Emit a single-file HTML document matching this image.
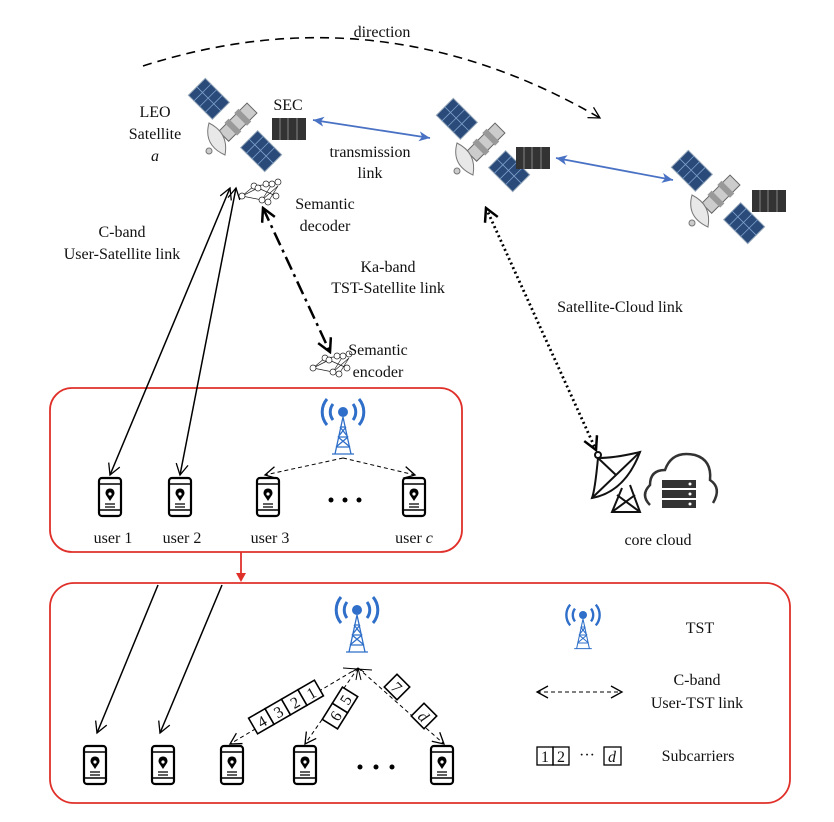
<!DOCTYPE html>
<html><head><meta charset="utf-8"><style>
html,body{margin:0;padding:0;background:#fff}
svg{display:block}
text{font-family:"Liberation Serif",serif;font-size:16px;fill:#111}
</style></head><body>
<svg width="834" height="822" viewBox="0 0 834 822" xmlns="http://www.w3.org/2000/svg">
<defs>
<marker id="oa" markerWidth="14" markerHeight="14" refX="12" refY="7" orient="auto-start-reverse" markerUnits="userSpaceOnUse"><path d="M1,1 L12,7 L1,13" fill="none" stroke="#000" stroke-width="1.3"/></marker>
<marker id="ob" markerWidth="16" markerHeight="16" refX="14" refY="8" orient="auto-start-reverse" markerUnits="userSpaceOnUse"><path d="M1,1 L14,8 L1,15" fill="none" stroke="#000" stroke-width="2.5"/></marker>
<marker id="bl" markerWidth="12" markerHeight="12" refX="11" refY="6" orient="auto-start-reverse" markerUnits="userSpaceOnUse"><path d="M0,1 L11,6 L0,11 L3,6z" fill="#4a72c4"/></marker>
<g id="sat">
  <g transform="rotate(-45)">
    <rect x="-12" y="-54" width="24" height="34" fill="#2a4b7a" stroke="#9ab" stroke-width="1"/>
    <path d="M-12,-46H12M-12,-38H12M-12,-30H12M0,-54V-20" stroke="#7fa2cc" stroke-width="0.8"/>
    <rect x="-12" y="20" width="24" height="34" fill="#2a4b7a" stroke="#9ab" stroke-width="1"/>
    <path d="M-12,28H12M-12,36H12M-12,44H12M0,20V54" stroke="#7fa2cc" stroke-width="0.8"/>
  </g>
  <g transform="rotate(45)">
    <rect x="-7" y="-24" width="14" height="40" fill="#ccc" stroke="#666"/>
    <rect x="-9" y="-14" width="18" height="6" fill="#999"/>
    <rect x="-9" y="0" width="18" height="6" fill="#999"/>
  </g>
  <path d="M-26,-2 Q-32,20 -10,30 Q-6,8 -26,-2z" fill="#e8e8e8" stroke="#777"/>
  <circle cx="-26" cy="26" r="3" fill="#ccc" stroke="#777"/>
</g>
<g id="srv">
  <rect x="0" y="0" width="34" height="22" fill="#333"/>
  <path d="M8,0V22M16,0V22M25,0V22" stroke="#777" stroke-width="1.2"/>
</g>
<g id="phone">
  <rect x="-11" y="-19" width="22" height="38" rx="3" fill="#fff" stroke="#000" stroke-width="2.2"/>
  <path d="M-11,-13H11M-11,13H11" stroke="#000" stroke-width="1.5"/>
  <path d="M0,4 L-4,-2 A4.5,4.5 0 1 1 4,-2z" fill="#000"/>
  <circle cx="0" cy="-3" r="1.6" fill="#fff"/>
  <path d="M-5,7H5M-5,10H5" stroke="#000" stroke-width="1.2"/>
</g>
<g id="tower" stroke="#2f6fc9" fill="none">
  <circle cx="0" cy="0" r="5" fill="#2f6fc9" stroke="none"/>
  <path d="M-10,-8 A13,13 0 0 0 -10,8 M10,-8 A13,13 0 0 1 10,8" stroke-width="3"/>
  <path d="M-16,-13 A20,20 0 0 0 -16,13 M16,-13 A20,20 0 0 1 16,13" stroke-width="3"/>
  <path d="M0,5 L-8,42 M0,5 L8,42 M-3,15 L3,15 M-5,25 L5,25 M-7,35 L7,35 M-3,15 L5,25 M3,15 L-5,25 M-5,25 L7,35 M5,25 L-7,35 M-11,42 L11,42" stroke-width="1.3"/>
</g>
<g id="nn" stroke="#222" stroke-width="0.7" fill="#fff">
  <path d="M-20,4 L-8,-6 M-20,4 L0,8 M-20,4 L-4,-4 M-8,-6 L10,-8 M0,8 L16,-6 M-4,-4 L14,4 M10,-8 L0,8 M6,10 L16,-6"/>
  <circle cx="-20" cy="4" r="3"/><circle cx="-8" cy="-6" r="3"/><circle cx="-4" cy="-4" r="3"/><circle cx="0" cy="8" r="3"/>
  <circle cx="4" cy="-8" r="3"/><circle cx="10" cy="-8" r="3"/><circle cx="16" cy="-10" r="3"/><circle cx="6" cy="10" r="3"/><circle cx="14" cy="4" r="3"/>
</g>
</defs>

<!-- direction -->
<path d="M143,66 Q380,-10 600,118" fill="none" stroke="#000" stroke-width="1.6" stroke-dasharray="9,6" marker-end="url(#oa)"/>
<text x="382" y="37" text-anchor="middle">direction</text>

<!-- satellites -->
<use href="#sat" x="235" y="125"/>
<use href="#srv" x="272" y="118"/>
<text x="288" y="110" text-anchor="middle">SEC</text>
<text x="155" y="117" text-anchor="middle">LEO</text>
<text x="155" y="139" text-anchor="middle">Satellite</text>
<text x="155" y="161" text-anchor="middle" font-style="italic">a</text>
<line x1="313" y1="120" x2="430" y2="138" stroke="#4a72c4" stroke-width="1.8" marker-start="url(#bl)" marker-end="url(#bl)"/>
<text x="370" y="157" text-anchor="middle">transmission</text>
<text x="370" y="178" text-anchor="middle">link</text>
<use href="#sat" x="483" y="145"/>
<use href="#srv" x="516" y="147"/>
<line x1="556" y1="158" x2="673" y2="180" stroke="#4a72c4" stroke-width="1.8" marker-start="url(#bl)" marker-end="url(#bl)"/>
<use href="#sat" x="718" y="197"/>
<use href="#srv" x="752" y="190"/>

<!-- semantic -->
<use href="#nn" x="262" y="192"/>
<text x="325" y="209" text-anchor="middle">Semantic</text>
<text x="325" y="231" text-anchor="middle">decoder</text>
<text x="122" y="237" text-anchor="middle">C-band</text>
<text x="122" y="259" text-anchor="middle">User-Satellite link</text>
<text x="388" y="272" text-anchor="middle">Ka-band</text>
<text x="388" y="293" text-anchor="middle">TST-Satellite link</text>
<line x1="263" y1="208" x2="330" y2="352" stroke="#000" stroke-width="2.5" stroke-dasharray="14,5,3,5" marker-start="url(#ob)" marker-end="url(#ob)"/>
<use href="#nn" x="333" y="364"/>
<text x="378" y="355" text-anchor="middle">Semantic</text>
<text x="378" y="377" text-anchor="middle">encoder</text>
<text x="620" y="312" text-anchor="middle">Satellite-Cloud link</text>
<line x1="486" y1="208" x2="596" y2="450" stroke="#000" stroke-width="2.8" stroke-dasharray="2,3" marker-start="url(#ob)" marker-end="url(#ob)"/>

<!-- core cloud -->
<g fill="none" stroke="#111" stroke-width="2">
  <circle cx="598" cy="455" r="3"/>
  <path d="M598,458 Q595,490 592,498 Q625,492 640,452 Q615,458 598,458z"/>
  <path d="M598,458 L616,475 M592,498 L640,452"/>
  <path d="M622,488 L612,512 L640,512 L630,485 M612,512 L635,495 M640,512 L617,495"/>
</g>
<path d="M650,505 Q640,495 650,485 Q650,470 665,470 Q672,450 695,455 Q712,460 710,480 Q722,488 713,503" fill="none" stroke="#333" stroke-width="2.5"/>
<g fill="#333"><rect x="662" y="480" width="34" height="8"/><rect x="662" y="490" width="34" height="8"/><rect x="662" y="500" width="34" height="8"/></g>
<g fill="#fff"><circle cx="690" cy="484" r="1.5"/><circle cx="690" cy="494" r="1.5"/><circle cx="690" cy="504" r="1.5"/></g>
<text x="658" y="545" text-anchor="middle">core cloud</text>

<!-- Box 1 -->
<rect x="50" y="388" width="412" height="164" rx="22" fill="none" stroke="#e0302a" stroke-width="1.8"/>
<line x1="230" y1="188" x2="110" y2="475" stroke="#000" stroke-width="1.5" marker-start="url(#oa)" marker-end="url(#oa)"/>
<line x1="236" y1="188" x2="180" y2="475" stroke="#000" stroke-width="1.5" marker-start="url(#oa)" marker-end="url(#oa)"/>
<use href="#tower" x="343" y="412"/>
<line x1="343" y1="458" x2="265" y2="475" stroke="#000" stroke-width="1" stroke-dasharray="4,3" marker-end="url(#oa)"/>
<line x1="343" y1="458" x2="415" y2="475" stroke="#000" stroke-width="1" stroke-dasharray="4,3" marker-end="url(#oa)"/>
<use href="#phone" x="110" y="497"/>
<use href="#phone" x="180" y="497"/>
<use href="#phone" x="268" y="497"/>
<use href="#phone" x="414" y="497"/>
<g fill="#000"><circle cx="331" cy="500" r="2.5"/><circle cx="345" cy="500" r="2.5"/><circle cx="359" cy="500" r="2.5"/></g>
<text x="113" y="543" text-anchor="middle">user 1</text>
<text x="182" y="543" text-anchor="middle">user 2</text>
<text x="270" y="543" text-anchor="middle">user 3</text>
<text x="414" y="543" text-anchor="middle">user <tspan font-style="italic">c</tspan></text>

<line x1="241" y1="552" x2="241" y2="578" stroke="#e0302a" stroke-width="1.8"/>
<path d="M236,573 L241,582 L246,573z" fill="#e0302a"/>

<!-- Box 2 -->
<rect x="50" y="583" width="740" height="220" rx="24" fill="none" stroke="#e0302a" stroke-width="1.8"/>
<line x1="158" y1="585" x2="97" y2="733" stroke="#000" stroke-width="1.5" marker-end="url(#oa)"/>
<line x1="222" y1="585" x2="160" y2="733" stroke="#000" stroke-width="1.5" marker-end="url(#oa)"/>
<use href="#tower" x="357" y="610"/>
<g stroke="#000" stroke-width="1" stroke-dasharray="4,3" fill="none">
  <line x1="358" y1="668" x2="230" y2="744" marker-end="url(#oa)"/>
  <line x1="358" y1="668" x2="305" y2="744" marker-end="url(#oa)"/>
  <line x1="358" y1="668" x2="444" y2="744" marker-end="url(#oa)"/>
</g>
<path d="M343,668 L372,670 M352,672 L358,668 L364,672 M358,668 L356,680 M358,668 L361,680" stroke="#000" stroke-width="1" fill="none"/>
<g stroke="#000" stroke-width="1.6" fill="#fff">
  <g transform="translate(286,707) rotate(-30)">
    <rect x="-38" y="-9" width="19" height="18"/><rect x="-19" y="-9" width="19" height="18"/><rect x="0" y="-9" width="19" height="18"/><rect x="19" y="-9" width="19" height="18"/>
    <text x="-28" y="6" text-anchor="middle" stroke="none" fill="#111">4</text><text x="-9" y="6" text-anchor="middle" stroke="none" fill="#111">3</text><text x="10" y="6" text-anchor="middle" stroke="none" fill="#111">2</text><text x="29" y="6" text-anchor="middle" stroke="none" fill="#111">1</text>
  </g>
  <g transform="translate(340,708) rotate(-58)">
    <rect x="-19" y="-9" width="19" height="18"/><rect x="0" y="-9" width="19" height="18"/>
    <text x="-9" y="6" text-anchor="middle" stroke="none" fill="#111">6</text><text x="10" y="6" text-anchor="middle" stroke="none" fill="#111">5</text>
  </g>
  <g transform="translate(397,687) rotate(45)">
    <rect x="-9" y="-9" width="18" height="18"/><text x="0" y="6" text-anchor="middle" stroke="none" fill="#111">7</text>
  </g>
  <g transform="translate(424,716) rotate(45)">
    <rect x="-9" y="-9" width="18" height="18"/><text x="0" y="6" text-anchor="middle" stroke="none" fill="#111" font-style="italic">d</text>
  </g>
</g>
<use href="#phone" x="95" y="765"/>
<use href="#phone" x="163" y="765"/>
<use href="#phone" x="232" y="765"/>
<use href="#phone" x="305" y="765"/>
<use href="#phone" x="442" y="765"/>
<g fill="#000"><circle cx="360" cy="767" r="2.5"/><circle cx="376" cy="767" r="2.5"/><circle cx="392" cy="767" r="2.5"/></g>

<!-- legend -->
<use href="#tower" transform="translate(583,615) scale(0.8)"/>
<text x="700" y="633" text-anchor="middle">TST</text>
<line x1="537" y1="692" x2="622" y2="692" stroke="#000" stroke-width="1" stroke-dasharray="4,3" marker-start="url(#oa)" marker-end="url(#oa)"/>
<text x="697" y="685" text-anchor="middle">C-band</text>
<text x="697" y="708" text-anchor="middle">User-TST link</text>
<g stroke="#000" stroke-width="1.3" fill="none">
  <rect x="537" y="747" width="16" height="18"/><rect x="553" y="747" width="16" height="18"/><rect x="604" y="747" width="17" height="18"/>
</g>
<text x="545" y="762" text-anchor="middle">1</text><text x="561" y="762" text-anchor="middle">2</text>
<text x="587" y="760" text-anchor="middle">···</text>
<text x="612" y="762" text-anchor="middle" font-style="italic">d</text>
<text x="698" y="761" text-anchor="middle">Subcarriers</text>
</svg>
</body></html>
